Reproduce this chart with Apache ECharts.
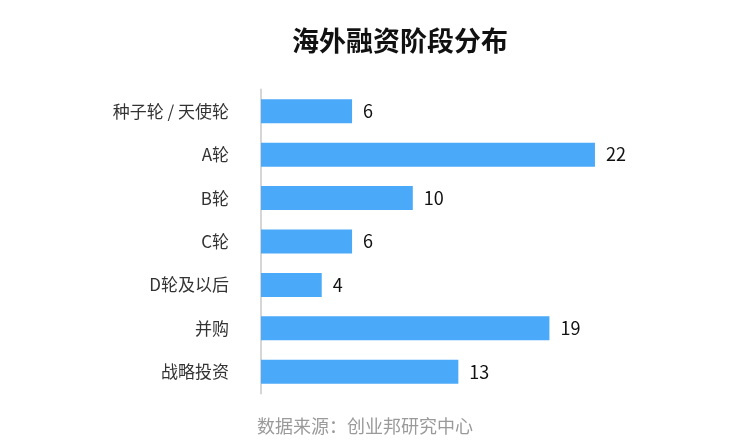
<!DOCTYPE html>
<html lang="zh">
<head>
    <meta charset="UTF-8">
    <title>海外融资阶段分布</title>
    <script src="https://cdn.jsdelivr.net/npm/echarts@6/dist/echarts.min.js"></script>
</head>
<body style="margin:0">
<div id="main" style="width: 736px;height: 444px"></div>
<script>
    // 从上到下的融资阶段
    var stages = ['种子轮 / 天使轮', 'A轮', 'B轮', 'C轮', 'D轮及以后', '并购', '战略投资'];
    var counts = [6, 22, 10, 6, 4, 19, 13];

    var myChart = echarts.init(document.getElementById('main'));
    var option = {
        backgroundColor: '#fff',
        textStyle: {fontFamily: '"Noto Sans CJK SC", "Noto Sans", sans-serif'},
        title: [{
            text: '海外融资阶段分布',
            left: 287,
            top: 22,
            textStyle: {fontSize: 27, fontWeight: 'bold', color: '#111'}
        }, {
            text: '数据来源：创业邦研究中心',
            left: 252,
            top: 412,
            textStyle: {fontSize: 18, fontWeight: 'normal', color: '#9a9a9a'}
        }],
        grid: {left: 261, right: 19.6, top: 89.5, bottom: 50.5},
        xAxis: {
            type: 'value',
            min: 0,
            max: 30,
            show: false
        },
        yAxis: {
            type: 'category',
            inverse: true,
            data: stages,
            axisLine: {lineStyle: {color: '#d6d6d6', width: 2}},
            axisTick: {show: false},
            axisLabel: {fontSize: 17, color: '#333', margin: 32}
        },
        series: [{
            type: 'bar',
            data: counts,
            barWidth: 24,
            itemStyle: {color: '#4aa9f9'},
            label: {
                show: true,
                position: 'right',
                distance: 11,
                fontSize: 18,
                color: '#111'
            }
        }]
    };
    myChart.setOption(option);
</script>
</body>
</html>
